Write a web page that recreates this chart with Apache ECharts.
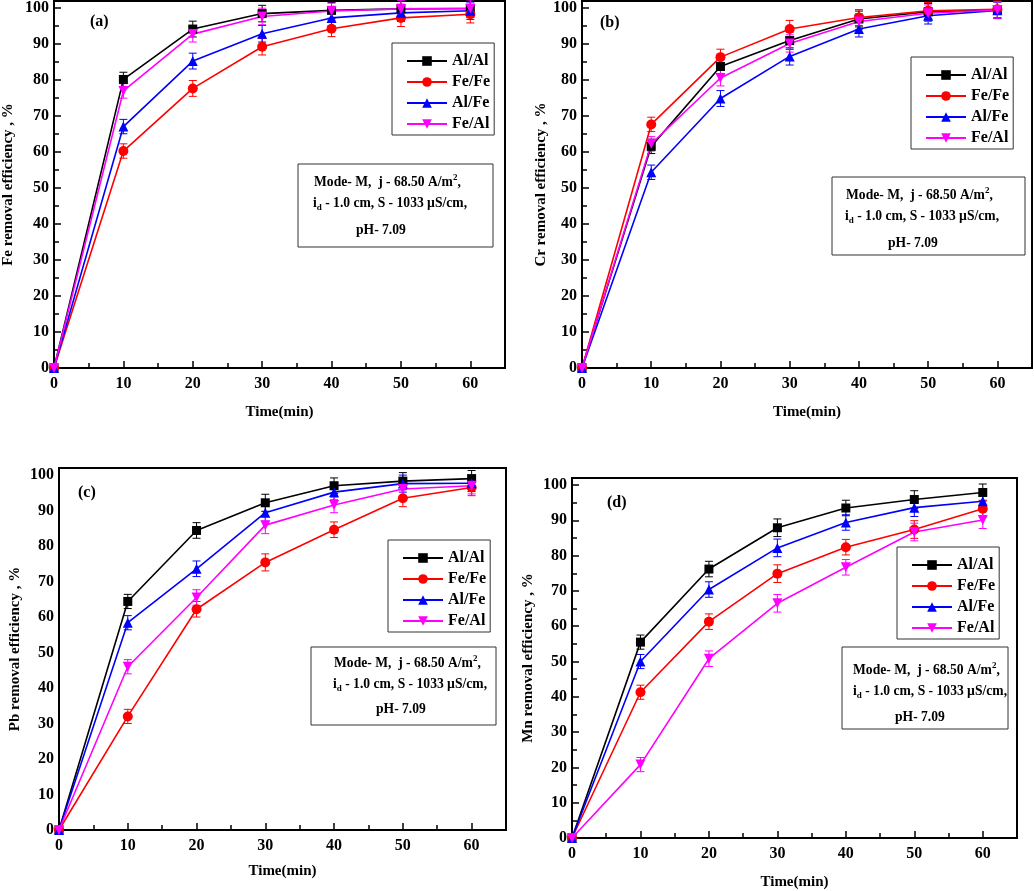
<!DOCTYPE html>
<html>
<head>
<meta charset="utf-8">
<script src="https://cdn.jsdelivr.net/npm/echarts@6/dist/echarts.min.js"></script>
<style>
html,body{margin:0;padding:0;background:#fff;}
#chart{width:1034px;height:891px;}
</style>
</head>
<body>
<div id="chart"></div>
<script>
// ---------- data ----------
const times = [0, 10, 20, 30, 40, 50, 60];
const seriesNames = ['Al/Al', 'Fe/Fe', 'Al/Fe', 'Fe/Al'];
const xTickLabels = ['0', '10', '20', '30', '40', '50', '60'];
const yTickLabels = ['0', '10', '20', '30', '40', '50', '60', '70', '80', '90', '100'];

// (a) Fe removal efficiency
const feAlAl = [0, 80.2, 94.2, 98.5, 99.4, 99.8, 99.9];
const feFeFe = [0, 60.3, 77.7, 89.3, 94.3, 97.3, 98.3];
const feAlFe = [0, 67.1, 85.3, 92.9, 97.3, 98.7, 99.3];
const feFeAl = [0, 77.0, 92.8, 97.7, 99.2, 99.8, 99.9];
const feErr  = [0, 2.0, 2.2, 2.3, 2.2, 2.4, 2.4];

// (b) Cr removal efficiency
const crAlAl = [0, 61.6, 83.8, 91.0, 97.0, 99.0, 99.5];
const crFeFe = [0, 67.7, 86.4, 94.2, 97.4, 99.3, 99.7];
const crAlFe = [0, 54.4, 74.9, 86.6, 94.2, 97.9, 99.4];
const crFeAl = [0, 62.3, 80.6, 90.2, 96.3, 98.6, 99.5];
const crErr  = [0, 2.0, 2.2, 2.4, 2.2, 2.3, 2.3];

// (c) Pb removal efficiency
const pbAlAl = [0, 64.4, 84.4, 92.2, 97.0, 98.3, 99.0];
const pbFeFe = [0, 32.0, 62.2, 75.4, 84.6, 93.5, 96.5];
const pbAlFe = [0, 58.4, 73.6, 89.4, 95.2, 97.6, 97.7];
const pbFeAl = [0, 46.0, 65.5, 85.9, 91.6, 96.1, 97.0];
const pbErr  = [0, 2.0, 2.2, 2.4, 2.2, 2.4, 2.3];

// (d) Mn removal efficiency
const mnAlAl = [0, 55.5, 76.2, 87.9, 93.5, 95.9, 97.9];
const mnFeFe = [0, 41.3, 61.3, 74.9, 82.4, 87.4, 93.3];
const mnAlFe = [0, 50.0, 70.4, 82.2, 89.4, 93.6, 95.4];
const mnFeAl = [0, 20.8, 50.8, 66.5, 76.7, 86.7, 90.1];
const mnErr  = [0, 2.0, 2.2, 2.5, 2.2, 2.5, 2.4];

const panelData = [
  [feAlAl, feFeFe, feAlFe, feFeAl],
  [crAlAl, crFeFe, crAlFe, crFeAl],
  [pbAlAl, pbFeFe, pbAlFe, pbFeAl],
  [mnAlAl, mnFeFe, mnAlFe, mnFeAl]
];
const panelErr = [feErr, crErr, pbErr, mnErr];
const yTitles = ['Fe removal efficiency , %', 'Cr removal efficiency , %', 'Pb removal efficiency , %', 'Mn removal efficiency , %'];
const panelLabels = ['(a)', '(b)', '(c)', '(d)'];

// ---------- styles ----------
const FONT = "'Liberation Serif','Times New Roman',serif";
const colors = ['#000000', '#ff0000', '#0000ff', '#ff00ff'];
const symbols = ['rect', 'circle', 'triangle', 'path://M0,0L2,0L1,1.732Z'];
const symbolSizes = [9, 10, 10, 10];

const grids = [
  {left: 53, top: 1, width: 452, height: 367},
  {left: 582, top: 1, width: 450, height: 367},
  {left: 59, top: 468, width: 447, height: 362},
  {left: 572, top: 478, width: 445, height: 360}
];
const legendPos = [
  {left: 392, top: 43},
  {left: 911, top: 57},
  {left: 388, top: 540},
  {left: 897, top: 547}
];
const boxes = [
  {x: 298, y: 164, w: 195, h: 83, lx: [314, 313, 356], ly: [182, 203, 230]},
  {x: 832, y: 177, w: 193, h: 78, lx: [846, 845, 888], ly: [195, 216, 243]},
  {x: 311, y: 647, w: 185, h: 78, lx: [334, 333, 376], ly: [663, 684, 709]},
  {x: 842, y: 647, w: 166, h: 82, lx: [853, 853, 895], ly: [670, 691, 717]}
];
const labelPos = [[90, 22], [600, 23], [78, 493], [607, 503]];

const option = {
  backgroundColor: '#fff',
  animation: false,
  grid: grids.map(g => Object.assign({show: true, borderColor: '#000', borderWidth: 2, backgroundColor: 'transparent'}, g)),
  xAxis: grids.map((g, i) => ({
    type: 'value', gridIndex: i, min: 0, max: 65, interval: 10,
    name: 'Time(min)', nameLocation: 'middle', nameGap: i === 2 ? 34 : 37,
    nameTextStyle: {fontFamily: FONT, fontWeight: 'bold', fontSize: 15, color: '#000'},
    axisLine: {lineStyle: {color: '#000', width: 2}},
    axisTick: {inside: true, length: 7, lineStyle: {color: '#000', width: 1.5}},
    minorTick: {show: true, splitNumber: 2, length: 5, lineStyle: {color: '#000', width: 1.5}},
    splitLine: {show: false},
    axisLabel: {
      fontFamily: FONT, fontWeight: 'bold', fontSize: 16, color: '#000', margin: 8,
      showMaxLabel: false,
      formatter: v => { const k = times.indexOf(v); return k >= 0 ? xTickLabels[k] : ''; }
    }
  })),
  yAxis: grids.map((g, i) => ({
    type: 'value', gridIndex: i, min: 0, max: 102, interval: 10,
    name: yTitles[i], nameLocation: 'middle', nameGap: i === 1 ? 32 : (i === 0 ? 38 : 36),
    nameTextStyle: {fontFamily: FONT, fontWeight: 'bold', fontSize: 15, color: '#000'},
    axisLine: {lineStyle: {color: '#000', width: 2}},
    axisTick: {show: i !== 2, inside: true, length: 7, lineStyle: {color: '#000', width: 1.5}},
    minorTick: {show: i !== 2, splitNumber: 2, length: 5, lineStyle: {color: '#000', width: 1.5}},
    splitLine: {show: false},
    axisLabel: {
      fontFamily: FONT, fontWeight: 'bold', fontSize: 16, color: '#000', margin: 5,
      showMaxLabel: false,
      formatter: v => { const k = v / 10; return (Number.isInteger(k) && k >= 0 && k < yTickLabels.length) ? yTickLabels[k] : ''; }
    }
  })),
  legend: legendPos.map(p => ({
    left: p.left, top: p.top, orient: 'vertical', z: 60,
    data: seriesNames,
    backgroundColor: '#fff', borderColor: '#333', borderWidth: 1,
    padding: [10, 4, 3, 14],
    itemWidth: 40, itemHeight: 12, itemGap: 5,
    selectedMode: false,
    textStyle: {fontFamily: FONT, fontWeight: 'bold', fontSize: 16, color: '#000'}
  })),
  series: [],
  graphic: []
};

// error bars (custom series) and lines
panelData.forEach((sets, p) => {
  sets.forEach((vals, s) => {
    option.series.push({
      type: 'custom', name: 'err' + p + s, xAxisIndex: p, yAxisIndex: p, z: 1,
      data: times.map((t, k) => [t, vals[k], panelErr[p][k]]),
      renderItem: (params, api) => {
        const x = api.value(0), y = api.value(1), e = api.value(2);
        if (!e) return null;
        const hi = api.coord([x, y + e]), lo = api.coord([x, y - e]);
        const w = 4;
        const st = {stroke: colors[s], lineWidth: 1};
        return {type: 'group', children: [
          {type: 'line', shape: {x1: hi[0], y1: hi[1], x2: lo[0], y2: lo[1]}, style: st},
          {type: 'line', shape: {x1: hi[0] - w, y1: hi[1], x2: hi[0] + w, y2: hi[1]}, style: st},
          {type: 'line', shape: {x1: lo[0] - w, y1: lo[1], x2: lo[0] + w, y2: lo[1]}, style: st}
        ]};
      }
    });
  });
  sets.forEach((vals, s) => {
    option.series.push({
      type: 'line', name: seriesNames[s], xAxisIndex: p, yAxisIndex: p, z: 3,
      data: times.map((t, k) => [t, vals[k]]),
      symbol: symbols[s], symbolSize: symbolSizes[s], showSymbol: true,
      lineStyle: {color: colors[s], width: 1.6},
      itemStyle: {color: colors[s]},
      emphasis: {disabled: true}
    });
  });
});

// annotation boxes and panel labels
const richStyles = {
  t: {fontFamily: FONT, fontWeight: 'bold', fontSize: 13.6, color: '#000', lineHeight: 18},
  sup: {fontFamily: FONT, fontWeight: 'bold', fontSize: 9, color: '#000', lineHeight: 18, verticalAlign: 'top', padding: [0, 0, 6, 0]},
  sub: {fontFamily: FONT, fontWeight: 'bold', fontSize: 9, color: '#000', lineHeight: 18, verticalAlign: 'bottom', padding: [8, 0, 0, 0]}
};
boxes.forEach((b, i) => {
  option.graphic.push({
    type: 'rect', shape: {x: b.x, y: b.y, width: b.w, height: b.h},
    style: {fill: '#fff', stroke: '#333', lineWidth: 1}, z: 50
  });
  const lines = [
    '{t|Mode- M,  j - 68.50 A/m}{sup|2}{t|,}',
    '{t|i}{sub|d}{t| - 1.0 cm, S - 1033 µS/cm,}',
    '{t|pH- 7.09}'
  ];
  lines.forEach((txt, k) => {
    option.graphic.push({
      type: 'text', x: b.lx[k], y: b.ly[k], z: 51,
      style: {text: txt, rich: richStyles, verticalAlign: 'middle', align: 'left'}
    });
  });
  option.graphic.push({
    type: 'text', x: labelPos[i][0], y: labelPos[i][1], z: 51,
    style: {text: panelLabels[i], fontFamily: FONT, fontWeight: 'bold', fontSize: 16, fill: '#000', verticalAlign: 'middle', align: 'left'}
  });
});

const chart = echarts.init(document.getElementById('chart'), null, {renderer: 'canvas'});
chart.setOption(option);
</script>
</body>
</html>
